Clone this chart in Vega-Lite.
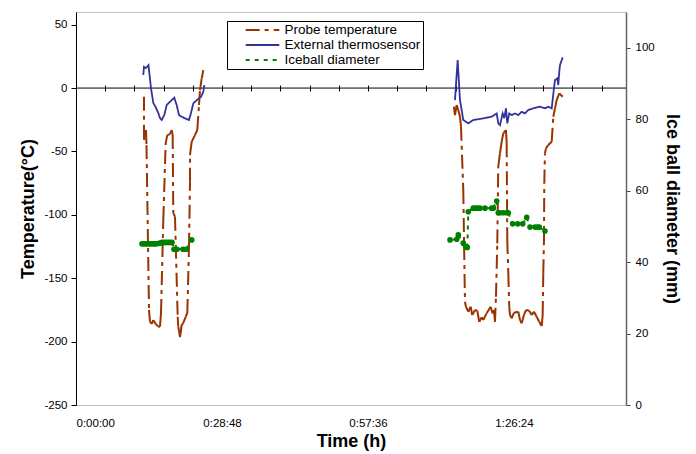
{
  "$schema": "https://vega.github.io/schema/vega-lite/v6.json",
  "width": 550,
  "height": 393,
  "autosize": {"type": "none"},
  "padding": {"left": 76, "top": 12, "right": 70, "bottom": 49},
  "background": "white",
  "config": {
    "font": "Liberation Sans",
    "view": {"stroke": "#c0c0c0", "strokeWidth": 1},
    "axis": {"grid": false, "labelFont": "Liberation Sans", "labelFontSize": 11.5, "labelColor": "#000", "titleFont": "Liberation Sans", "titleFontSize": 18, "titleFontWeight": "bold", "titleColor": "#000", "tickColor": "#000", "domainColor": "#000"},
    "legend": {"orient": "none", "legendX": 151, "legendY": 9, "symbolType": "M-2.8,0H2.8", "symbolSize": 144, "symbolStrokeWidth": 2, "labelFont": "Liberation Sans", "labelFontSize": 13.5, "labelColor": "#000", "strokeColor": "#000", "fillColor": "white", "padding": 2, "rowPadding": 1, "symbolOffset": 26.5, "labelOffset": 15, "labelLimit": 300}
  },
  "datasets": {
    "probe": [
      {"series": "Probe temperature", "run": 1, "t": 13.41, "v": -6.9},
      {"series": "Probe temperature", "run": 1, "t": 13.41, "v": -41},
      {"series": "Probe temperature", "run": 1, "t": 13.81, "v": -33.1},
      {"series": "Probe temperature", "run": 1, "t": 13.91, "v": -45},
      {"series": "Probe temperature", "run": 1, "t": 14.40, "v": -175},
      {"series": "Probe temperature", "run": 1, "t": 14.60, "v": -184.3},
      {"series": "Probe temperature", "run": 1, "t": 14.93, "v": -186.1},
      {"series": "Probe temperature", "run": 1, "t": 15.25, "v": -183},
      {"series": "Probe temperature", "run": 1, "t": 15.72, "v": -186.1},
      {"series": "Probe temperature", "run": 1, "t": 16.23, "v": -188.2},
      {"series": "Probe temperature", "run": 1, "t": 16.57, "v": -188.2},
      {"series": "Probe temperature", "run": 1, "t": 16.77, "v": -177.4},
      {"series": "Probe temperature", "run": 1, "t": 17.22, "v": -104.1},
      {"series": "Probe temperature", "run": 1, "t": 17.69, "v": -43.4},
      {"series": "Probe temperature", "run": 1, "t": 18.01, "v": -37.1},
      {"series": "Probe temperature", "run": 1, "t": 18.54, "v": -36.3},
      {"series": "Probe temperature", "run": 1, "t": 18.88, "v": -33.1},
      {"series": "Probe temperature", "run": 1, "t": 19.07, "v": -37.1},
      {"series": "Probe temperature", "run": 1, "t": 19.19, "v": -98.6},
      {"series": "Probe temperature", "run": 1, "t": 19.53, "v": -101.5},
      {"series": "Probe temperature", "run": 1, "t": 20.06, "v": -180.4},
      {"series": "Probe temperature", "run": 1, "t": 20.18, "v": -188.2},
      {"series": "Probe temperature", "run": 1, "t": 20.52, "v": -196.4},
      {"series": "Probe temperature", "run": 1, "t": 20.85, "v": -186.9},
      {"series": "Probe temperature", "run": 1, "t": 21.17, "v": -185.3},
      {"series": "Probe temperature", "run": 1, "t": 21.64, "v": -180.4},
      {"series": "Probe temperature", "run": 1, "t": 21.96, "v": -177.4},
      {"series": "Probe temperature", "run": 1, "t": 22.29, "v": -125.2},
      {"series": "Probe temperature", "run": 1, "t": 22.49, "v": -73.9},
      {"series": "Probe temperature", "run": 1, "t": 22.49, "v": -52.8},
      {"series": "Probe temperature", "run": 1, "t": 22.82, "v": -42.3},
      {"series": "Probe temperature", "run": 1, "t": 23.47, "v": -37.1},
      {"series": "Probe temperature", "run": 1, "t": 23.93, "v": -33.1},
      {"series": "Probe temperature", "run": 1, "t": 24.26, "v": -13.4},
      {"series": "Probe temperature", "run": 1, "t": 24.46, "v": -1.6},
      {"series": "Probe temperature", "run": 1, "t": 24.80, "v": 7.6},
      {"series": "Probe temperature", "run": 1, "t": 25.11, "v": 14.2},
      {"series": "Probe temperature", "run": 2, "t": 74.56, "v": -14.7},
      {"series": "Probe temperature", "run": 2, "t": 74.76, "v": -21.3},
      {"series": "Probe temperature", "run": 2, "t": 75.10, "v": -13.4},
      {"series": "Probe temperature", "run": 2, "t": 75.41, "v": -17.3},
      {"series": "Probe temperature", "run": 2, "t": 75.75, "v": -22.6},
      {"series": "Probe temperature", "run": 2, "t": 75.95, "v": -30.5},
      {"series": "Probe temperature", "run": 2, "t": 76.40, "v": -80.4},
      {"series": "Probe temperature", "run": 2, "t": 76.73, "v": -168.5},
      {"series": "Probe temperature", "run": 2, "t": 76.93, "v": -172.5},
      {"series": "Probe temperature", "run": 2, "t": 77.39, "v": -176.4},
      {"series": "Probe temperature", "run": 2, "t": 77.86, "v": -172.5},
      {"series": "Probe temperature", "run": 2, "t": 78.17, "v": -179.0},
      {"series": "Probe temperature", "run": 2, "t": 78.71, "v": -175.1},
      {"series": "Probe temperature", "run": 2, "t": 79.16, "v": -175.6},
      {"series": "Probe temperature", "run": 2, "t": 79.55, "v": -184.3},
      {"series": "Probe temperature", "run": 2, "t": 80.03, "v": -180.8},
      {"series": "Probe temperature", "run": 2, "t": 80.34, "v": -183.0},
      {"series": "Probe temperature", "run": 2, "t": 81.01, "v": -177.7},
      {"series": "Probe temperature", "run": 2, "t": 81.80, "v": -172.5},
      {"series": "Probe temperature", "run": 2, "t": 82.20, "v": -177.7},
      {"series": "Probe temperature", "run": 2, "t": 82.46, "v": -175.1},
      {"series": "Probe temperature", "run": 2, "t": 82.65, "v": -184.3},
      {"series": "Probe temperature", "run": 2, "t": 82.85, "v": -164.6},
      {"series": "Probe temperature", "run": 2, "t": 83.11, "v": -122.5},
      {"series": "Probe temperature", "run": 2, "t": 83.30, "v": -62.1},
      {"series": "Probe temperature", "run": 2, "t": 83.64, "v": -51.5},
      {"series": "Probe temperature", "run": 2, "t": 83.97, "v": -42.3},
      {"series": "Probe temperature", "run": 2, "t": 84.29, "v": -35.7},
      {"series": "Probe temperature", "run": 2, "t": 84.82, "v": -33.1},
      {"series": "Probe temperature", "run": 2, "t": 84.96, "v": -43.6},
      {"series": "Probe temperature", "run": 2, "t": 85.08, "v": -119.9},
      {"series": "Probe temperature", "run": 2, "t": 85.28, "v": -145.9},
      {"series": "Probe temperature", "run": 2, "t": 85.47, "v": -172.5},
      {"series": "Probe temperature", "run": 2, "t": 85.61, "v": -179.0},
      {"series": "Probe temperature", "run": 2, "t": 85.95, "v": -181.6},
      {"series": "Probe temperature", "run": 2, "t": 86.40, "v": -177.2},
      {"series": "Probe temperature", "run": 2, "t": 87.25, "v": -176.4},
      {"series": "Probe temperature", "run": 2, "t": 87.59, "v": -182.9},
      {"series": "Probe temperature", "run": 2, "t": 87.92, "v": -185.6},
      {"series": "Probe temperature", "run": 2, "t": 88.37, "v": -179.0},
      {"series": "Probe temperature", "run": 2, "t": 88.77, "v": -175.1},
      {"series": "Probe temperature", "run": 2, "t": 89.42, "v": -175.6},
      {"series": "Probe temperature", "run": 2, "t": 89.89, "v": -179.0},
      {"series": "Probe temperature", "run": 2, "t": 90.35, "v": -176.4},
      {"series": "Probe temperature", "run": 2, "t": 90.88, "v": -180.4},
      {"series": "Probe temperature", "run": 2, "t": 91.39, "v": -184.3},
      {"series": "Probe temperature", "run": 2, "t": 91.87, "v": -187.7},
      {"series": "Probe temperature", "run": 2, "t": 92.06, "v": -179.0},
      {"series": "Probe temperature", "run": 2, "t": 92.18, "v": -146.1},
      {"series": "Probe temperature", "run": 2, "t": 92.32, "v": -119.9},
      {"series": "Probe temperature", "run": 2, "t": 92.38, "v": -75.2},
      {"series": "Probe temperature", "run": 2, "t": 92.51, "v": -51.5},
      {"series": "Probe temperature", "run": 2, "t": 92.71, "v": -47.6},
      {"series": "Probe temperature", "run": 2, "t": 93.17, "v": -44.9},
      {"series": "Probe temperature", "run": 2, "t": 93.84, "v": -42.3},
      {"series": "Probe temperature", "run": 2, "t": 94.16, "v": -22.6},
      {"series": "Probe temperature", "run": 2, "t": 94.49, "v": -16.0},
      {"series": "Probe temperature", "run": 2, "t": 94.82, "v": -9.5},
      {"series": "Probe temperature", "run": 2, "t": 95.34, "v": -4.2},
      {"series": "Probe temperature", "run": 2, "t": 96.01, "v": -6.9}
    ],
    "ext": [
      {"series": "External thermosensor", "run": 1, "t": 13.28, "v": 10.3},
      {"series": "External thermosensor", "run": 1, "t": 13.41, "v": 16.8},
      {"series": "External thermosensor", "run": 1, "t": 13.81, "v": 15.8},
      {"series": "External thermosensor", "run": 1, "t": 14.30, "v": 18.1},
      {"series": "External thermosensor", "run": 1, "t": 14.79, "v": 0},
      {"series": "External thermosensor", "run": 1, "t": 15.25, "v": -11.8},
      {"series": "External thermosensor", "run": 1, "t": 15.72, "v": -15},
      {"series": "External thermosensor", "run": 1, "t": 16.23, "v": -19.7},
      {"series": "External thermosensor", "run": 1, "t": 16.57, "v": -23.7},
      {"series": "External thermosensor", "run": 1, "t": 16.91, "v": -25.2},
      {"series": "External thermosensor", "run": 1, "t": 17.42, "v": -21.3},
      {"series": "External thermosensor", "run": 1, "t": 17.89, "v": -13.4},
      {"series": "External thermosensor", "run": 1, "t": 18.54, "v": -10.8},
      {"series": "External thermosensor", "run": 1, "t": 19.39, "v": -7.6},
      {"series": "External thermosensor", "run": 1, "t": 19.86, "v": -13.4},
      {"series": "External thermosensor", "run": 1, "t": 20.32, "v": -21.3},
      {"series": "External thermosensor", "run": 1, "t": 20.85, "v": -22.6},
      {"series": "External thermosensor", "run": 1, "t": 21.50, "v": -23.9},
      {"series": "External thermosensor", "run": 1, "t": 22.29, "v": -25.2},
      {"series": "External thermosensor", "run": 1, "t": 22.68, "v": -19.7},
      {"series": "External thermosensor", "run": 1, "t": 23.14, "v": -12.1},
      {"series": "External thermosensor", "run": 1, "t": 23.81, "v": -9.5},
      {"series": "External thermosensor", "run": 1, "t": 24.66, "v": -6.9},
      {"series": "External thermosensor", "run": 1, "t": 25.11, "v": -2.9},
      {"series": "External thermosensor", "run": 1, "t": 25.31, "v": 2.4},
      {"series": "External thermosensor", "run": 2, "t": 74.76, "v": -9.5},
      {"series": "External thermosensor", "run": 2, "t": 75.29, "v": 22.1},
      {"series": "External thermosensor", "run": 2, "t": 75.75, "v": -9.5},
      {"series": "External thermosensor", "run": 2, "t": 76.40, "v": -25.2},
      {"series": "External thermosensor", "run": 2, "t": 77.39, "v": -27.8},
      {"series": "External thermosensor", "run": 2, "t": 78.37, "v": -25.2},
      {"series": "External thermosensor", "run": 2, "t": 80.34, "v": -23.9},
      {"series": "External thermosensor", "run": 2, "t": 82.00, "v": -22.6},
      {"series": "External thermosensor", "run": 2, "t": 82.99, "v": -20.0},
      {"series": "External thermosensor", "run": 2, "t": 83.30, "v": -27.8},
      {"series": "External thermosensor", "run": 2, "t": 83.64, "v": -29.2},
      {"series": "External thermosensor", "run": 2, "t": 84.17, "v": -20.0},
      {"series": "External thermosensor", "run": 2, "t": 84.49, "v": -23.7},
      {"series": "External thermosensor", "run": 2, "t": 84.82, "v": -16.0},
      {"series": "External thermosensor", "run": 2, "t": 85.08, "v": -27.8},
      {"series": "External thermosensor", "run": 2, "t": 85.47, "v": -20.0},
      {"series": "External thermosensor", "run": 2, "t": 85.95, "v": -21.3},
      {"series": "External thermosensor", "run": 2, "t": 86.60, "v": -20.0},
      {"series": "External thermosensor", "run": 2, "t": 87.25, "v": -21.3},
      {"series": "External thermosensor", "run": 2, "t": 87.92, "v": -18.7},
      {"series": "External thermosensor", "run": 2, "t": 88.57, "v": -20.0},
      {"series": "External thermosensor", "run": 2, "t": 89.22, "v": -17.3},
      {"series": "External thermosensor", "run": 2, "t": 90.21, "v": -16.0},
      {"series": "External thermosensor", "run": 2, "t": 91.53, "v": -14.7},
      {"series": "External thermosensor", "run": 2, "t": 92.51, "v": -16.0},
      {"series": "External thermosensor", "run": 2, "t": 93.17, "v": -14.7},
      {"series": "External thermosensor", "run": 2, "t": 93.84, "v": -16.0},
      {"series": "External thermosensor", "run": 2, "t": 94.29, "v": -0.2},
      {"series": "External thermosensor", "run": 2, "t": 94.49, "v": 6.3},
      {"series": "External thermosensor", "run": 2, "t": 94.94, "v": 7.6},
      {"series": "External thermosensor", "run": 2, "t": 95.14, "v": 2.4},
      {"series": "External thermosensor", "run": 2, "t": 95.34, "v": 12.9},
      {"series": "External thermosensor", "run": 2, "t": 95.48, "v": 18.1},
      {"series": "External thermosensor", "run": 2, "t": 96.01, "v": 24.2}
    ],
    "ice": [
      {"series": "Iceball diameter", "run": 1, "t": 13.02, "v": 45.1},
      {"series": "Iceball diameter", "run": 1, "t": 13.41, "v": 45.1},
      {"series": "Iceball diameter", "run": 1, "t": 13.81, "v": 45.1},
      {"series": "Iceball diameter", "run": 1, "t": 14.20, "v": 45.1},
      {"series": "Iceball diameter", "run": 1, "t": 14.60, "v": 45.1},
      {"series": "Iceball diameter", "run": 1, "t": 14.99, "v": 45.1},
      {"series": "Iceball diameter", "run": 1, "t": 15.39, "v": 45.1},
      {"series": "Iceball diameter", "run": 1, "t": 15.78, "v": 45.1},
      {"series": "Iceball diameter", "run": 1, "t": 16.18, "v": 45.2},
      {"series": "Iceball diameter", "run": 1, "t": 16.57, "v": 45.3},
      {"series": "Iceball diameter", "run": 1, "t": 16.96, "v": 45.5},
      {"series": "Iceball diameter", "run": 1, "t": 17.36, "v": 45.5},
      {"series": "Iceball diameter", "run": 1, "t": 17.75, "v": 45.5},
      {"series": "Iceball diameter", "run": 1, "t": 18.15, "v": 45.5},
      {"series": "Iceball diameter", "run": 1, "t": 18.54, "v": 45.5},
      {"series": "Iceball diameter", "run": 1, "t": 18.94, "v": 45.5},
      {"series": "Iceball diameter", "run": 1, "t": 19.33, "v": 43.6},
      {"series": "Iceball diameter", "run": 1, "t": 19.92, "v": 43.6},
      {"series": "Iceball diameter", "run": 1, "t": 21.11, "v": 43.6},
      {"series": "Iceball diameter", "run": 1, "t": 21.70, "v": 43.6},
      {"series": "Iceball diameter", "run": 1, "t": 22.82, "v": 46.2},
      {"series": "Iceball diameter", "run": 2, "t": 73.78, "v": 46.2},
      {"series": "Iceball diameter", "run": 2, "t": 75.10, "v": 46.4},
      {"series": "Iceball diameter", "run": 2, "t": 75.41, "v": 47.6},
      {"series": "Iceball diameter", "run": 2, "t": 76.40, "v": 45.3},
      {"series": "Iceball diameter", "run": 2, "t": 76.93, "v": 44.3},
      {"series": "Iceball diameter", "run": 2, "t": 77.19, "v": 44.1},
      {"series": "Iceball diameter", "run": 2, "t": 77.39, "v": 54.1},
      {"series": "Iceball diameter", "run": 2, "t": 78.37, "v": 55.1},
      {"series": "Iceball diameter", "run": 2, "t": 78.85, "v": 55.1},
      {"series": "Iceball diameter", "run": 2, "t": 79.24, "v": 55.1},
      {"series": "Iceball diameter", "run": 2, "t": 79.70, "v": 55.1},
      {"series": "Iceball diameter", "run": 2, "t": 80.68, "v": 55.1},
      {"series": "Iceball diameter", "run": 2, "t": 82.00, "v": 55.1},
      {"series": "Iceball diameter", "run": 2, "t": 82.32, "v": 55.1},
      {"series": "Iceball diameter", "run": 2, "t": 82.99, "v": 57.1},
      {"series": "Iceball diameter", "run": 2, "t": 83.30, "v": 53.8},
      {"series": "Iceball diameter", "run": 2, "t": 83.64, "v": 53.8},
      {"series": "Iceball diameter", "run": 2, "t": 84.29, "v": 53.8},
      {"series": "Iceball diameter", "run": 2, "t": 84.96, "v": 53.8},
      {"series": "Iceball diameter", "run": 2, "t": 85.28, "v": 53.8},
      {"series": "Iceball diameter", "run": 2, "t": 86.14, "v": 50.7},
      {"series": "Iceball diameter", "run": 2, "t": 87.13, "v": 50.7},
      {"series": "Iceball diameter", "run": 2, "t": 88.12, "v": 50.7},
      {"series": "Iceball diameter", "run": 2, "t": 88.91, "v": 52.5},
      {"series": "Iceball diameter", "run": 2, "t": 89.56, "v": 49.8},
      {"series": "Iceball diameter", "run": 2, "t": 90.55, "v": 49.8},
      {"series": "Iceball diameter", "run": 2, "t": 91.08, "v": 49.8},
      {"series": "Iceball diameter", "run": 2, "t": 91.39, "v": 49.8},
      {"series": "Iceball diameter", "run": 2, "t": 92.51, "v": 48.7}
    ]
  },
  "layer": [
    {
      "layer": [
        {
          "data": {"values": [{}]},
          "mark": {"type": "rule", "color": "#000", "strokeWidth": 1},
          "encoding": {
            "y": {"datum": 0, "type": "quantitative", "scale": {"domain": [-250, 60], "nice": false, "zero": false}, "axis": {"orient": "left", "values": [-250, -200, -150, -100, -50, 0, 50], "labelExpr": "toString(datum.value)", "tickSize": 5, "labelPadding": 4, "title": "Temperature(°C)", "titlePadding": 6}}
          }
        },
        {
          "data": {"name": "probe"},
          "transform": [
            {"window": [{"op": "lead", "field": "t", "as": "t2"}, {"op": "lead", "field": "v", "as": "v2"}], "groupby": ["run"]},
            {"filter": "isValid(datum.t2)"}
          ],
          "mark": {"type": "rule", "strokeWidth": 2},
          "encoding": {
            "x": {"field": "t", "type": "quantitative", "scale": {"domain": [0, 108.5], "nice": false, "zero": false}, "axis": {"orient": "bottom", "values": [0, 28.8, 57.6, 86.4], "labelExpr": "floor(round(datum.value*60)/3600) + ':' + pad('' + floor((round(datum.value*60)%3600)/60), 2, '0', 'left') + ':' + pad('' + (round(datum.value*60)%60), 2, '0', 'left')", "domain": false, "ticks": false, "tickSize": 0, "labelPadding": 12, "title": "Time (h)", "titlePadding": 4}},
            "x2": {"field": "t2"},
            "y": {"field": "v", "type": "quantitative", "scale": {"domain": [-250, 60], "nice": false, "zero": false}, "axis": {"orient": "left", "values": [-250, -200, -150, -100, -50, 0, 50], "labelExpr": "toString(datum.value)", "tickSize": 5, "labelPadding": 4, "title": "Temperature(°C)", "titlePadding": 6}},
            "y2": {"field": "v2"},
            "color": {"field": "series", "type": "nominal", "title": null, "scale": {"domain": ["Probe temperature", "External thermosensor", "Iceball diameter"], "range": ["#993300", "#333399", "#008000"]}},
            "strokeDash": {"field": "series", "type": "nominal", "title": null, "scale": {"domain": ["Probe temperature", "External thermosensor", "Iceball diameter"], "range": [[14, 5, 4, 5], [1, 0], [4, 5]]}}
          }
        },
        {
          "data": {"name": "ext"},
          "mark": {"type": "line", "strokeWidth": 1.8},
          "encoding": {
            "x": {"field": "t", "type": "quantitative", "scale": {"domain": [0, 108.5], "nice": false, "zero": false}, "axis": {"orient": "bottom", "values": [0, 28.8, 57.6, 86.4], "labelExpr": "floor(round(datum.value*60)/3600) + ':' + pad('' + floor((round(datum.value*60)%3600)/60), 2, '0', 'left') + ':' + pad('' + (round(datum.value*60)%60), 2, '0', 'left')", "domain": false, "ticks": false, "tickSize": 0, "labelPadding": 12, "title": "Time (h)", "titlePadding": 4}},
            "y": {"field": "v", "type": "quantitative", "scale": {"domain": [-250, 60], "nice": false, "zero": false}, "axis": {"orient": "left", "values": [-250, -200, -150, -100, -50, 0, 50], "labelExpr": "toString(datum.value)", "tickSize": 5, "labelPadding": 4, "title": "Temperature(°C)", "titlePadding": 6}},
            "detail": {"field": "run"},
            "order": {"field": "t"},
            "color": {"field": "series", "type": "nominal", "title": null, "scale": {"domain": ["Probe temperature", "External thermosensor", "Iceball diameter"], "range": ["#993300", "#333399", "#008000"]}},
            "strokeDash": {"field": "series", "type": "nominal", "title": null, "scale": {"domain": ["Probe temperature", "External thermosensor", "Iceball diameter"], "range": [[14, 5, 4, 5], [1, 0], [4, 5]]}}
          }
        }
      ]
    },
    {
      "layer": [
        {
          "data": {"name": "ice"},
          "transform": [
            {"window": [{"op": "lead", "field": "t", "as": "t2"}, {"op": "lead", "field": "v", "as": "v2"}], "groupby": ["run"]},
            {"filter": "isValid(datum.t2)"}
          ],
          "mark": {"type": "rule", "strokeWidth": 2},
          "encoding": {
            "x": {"field": "t", "type": "quantitative", "scale": {"domain": [0, 108.5], "nice": false, "zero": false}, "axis": {"orient": "bottom", "offset": -320, "values": [0, 5.76, 11.52, 17.28, 23.04, 28.8, 34.56, 40.32, 46.08, 51.84, 57.6, 63.36, 69.12, 74.88, 80.64, 86.4, 92.16, 97.92, 103.68], "tickSize": 6, "domain": false, "labels": false, "title": null}},
            "x2": {"field": "t2"},
            "y": {"field": "v", "type": "quantitative", "scale": {"domain": [0, 110], "nice": false, "zero": false}, "axis": {"orient": "right", "values": [0, 20, 40, 60, 80, 100], "tickSize": 4, "labelPadding": 5, "domainColor": "#666", "domainWidth": 1.5, "tickColor": "#444", "title": "Ice ball diameter (mm)", "titlePadding": 8}},
            "y2": {"field": "v2"},
            "color": {"field": "series", "type": "nominal", "title": null, "scale": {"domain": ["Probe temperature", "External thermosensor", "Iceball diameter"], "range": ["#993300", "#333399", "#008000"]}},
            "strokeDash": {"field": "series", "type": "nominal", "title": null, "scale": {"domain": ["Probe temperature", "External thermosensor", "Iceball diameter"], "range": [[14, 5, 4, 5], [1, 0], [4, 5]]}}
          }
        },
        {
          "data": {"name": "ice"},
          "mark": {"type": "point", "filled": true, "size": 32, "color": "#008000", "opacity": 1},
          "encoding": {
            "x": {"field": "t", "type": "quantitative", "scale": {"domain": [0, 108.5], "nice": false, "zero": false}, "axis": {"orient": "bottom", "offset": -320, "values": [0, 5.76, 11.52, 17.28, 23.04, 28.8, 34.56, 40.32, 46.08, 51.84, 57.6, 63.36, 69.12, 74.88, 80.64, 86.4, 92.16, 97.92, 103.68], "tickSize": 6, "domain": false, "labels": false, "title": null}},
            "y": {"field": "v", "type": "quantitative", "scale": {"domain": [0, 110], "nice": false, "zero": false}, "axis": {"orient": "right", "values": [0, 20, 40, 60, 80, 100], "tickSize": 4, "labelPadding": 5, "domainColor": "#666", "domainWidth": 1.5, "tickColor": "#444", "title": "Ice ball diameter (mm)", "titlePadding": 8}}
          }
        }
      ]
    }
  ],
  "resolve": {"scale": {"y": "independent"}, "axis": {"x": "independent"}}
}
